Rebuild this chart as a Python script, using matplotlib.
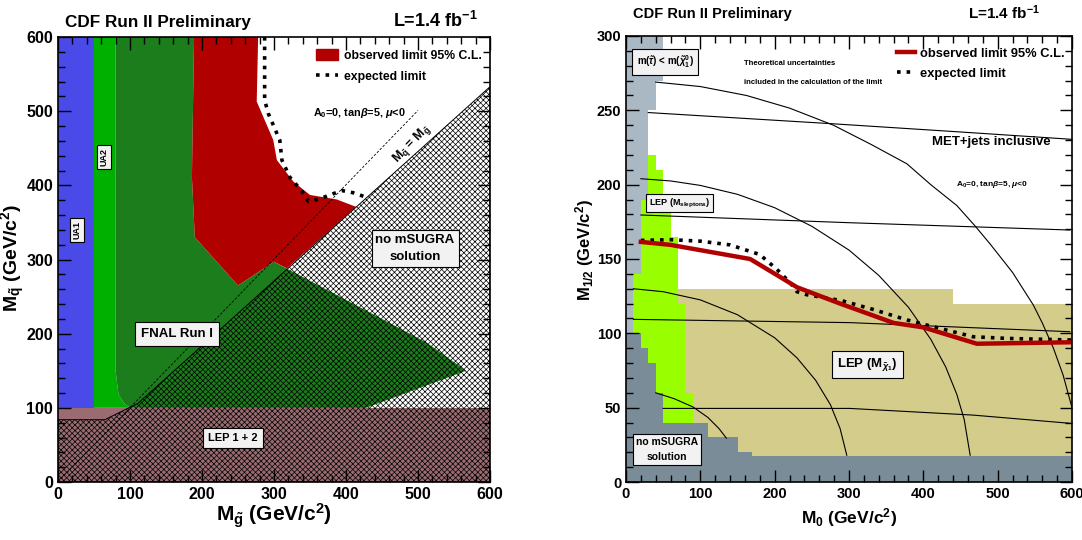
import matplotlib
matplotlib.use('Agg')
import matplotlib.pyplot as plt
from matplotlib.patches import Polygon, Patch
from matplotlib.lines import Line2D
from matplotlib.ticker import MultipleLocator

plt.rcParams['font.family'] = ['Liberation Sans', 'DejaVu Sans']
plt.rcParams['font.weight'] = 'bold'
plt.rcParams['mathtext.fontset'] = 'custom'
plt.rcParams['mathtext.rm'] = 'Liberation Sans:bold'
plt.rcParams['mathtext.bf'] = 'Liberation Sans:bold'
plt.rcParams['mathtext.it'] = 'Liberation Sans:italic:bold'
plt.rcParams['hatch.linewidth'] = 0.5

# ---- left panel: M_gluino vs M_squark (GeV/c^2) ----
ua1_x = [0, 50, 50, 0]
ua1_y = [100, 100, 600, 600]
ua2_x = [50, 50, 80, 80, 84, 92, 100]
ua2_y = [100, 600, 600, 150, 118, 106, 100]
fnal_x = [80, 189, 186, 190, 250, 300, 512, 567, 428, 100, 92, 84, 80]
fnal_y = [600, 600, 411, 330, 265, 297, 188, 150, 100, 100, 106, 118, 150]
obs_x = [189, 278, 276, 299, 304, 327, 350, 387, 414, 318, 300, 250, 190, 186]
obs_y = [600, 600, 513, 461, 434, 405, 387, 381, 371, 288, 297, 265, 330, 411]
exp_x = [287, 287, 292, 308, 311, 322, 338, 348, 364, 394, 410, 428]
exp_y = [600, 515, 497, 461, 434, 411, 393, 378, 382, 393, 390, 384]
nosol_x = [0, 0, 65, 111, 600, 600]
nosol_y = [0, 84, 84, 106, 533, 0]
lep_top = 100
diag_x = [0, 500]
diag_y = [0, 501]

# ---- right panel: M0 vs M1/2 (GeV/c^2) ----
stau_left = [0, 10, 20, 30, 40]
stau_bottom = [100, 140, 190, 250, 270]
stau_top = [300, 300, 300, 300, 300]
slep_left = [10, 20, 30, 40, 50, 60, 70, 80]
slep_bottom = [100, 90, 80, 60, 40, 40, 40, 40]
slep_top = [140, 190, 220, 210, 190, 165, 120, 60]
nosol_edges = [0, 20, 30, 40, 50, 110, 150, 170, 600]
nosol_vals = [100, 90, 80, 60, 40, 30, 20, 17.5]
chi_edges = [70, 440, 600]
chi_vals = [130, 120]
obs2_x = [20, 60, 167, 207, 230, 288, 360, 400, 472, 600]
obs2_y = [161.5, 159.5, 150, 138, 131, 120, 107, 104, 93, 94]
exp2_x = [20, 60, 100, 140, 180, 203, 221, 230, 243, 290, 333, 378, 405, 467, 512, 600]
exp2_y = [162.5, 163, 162, 159.5, 153, 143, 134, 128, 126, 122, 116, 109, 105.5, 97.7, 96.6, 95.5]
# iso-mass contours
arc1_x = [40, 65, 90, 110, 125, 135]
arc1_y = [60, 56, 50.5, 43.5, 36, 29.5]
arc2_x = [10, 50, 100, 150, 200, 230, 255, 275, 288, 297]
arc2_y = [130, 128, 122.5, 112.5, 97, 83.5, 68.5, 52, 36, 18]
arc3_x = [20, 60, 100, 150, 200, 250, 300, 340, 380, 410, 430, 445, 455, 463]
arc3_y = [204, 202.5, 199.5, 193.5, 184.5, 172, 156, 139, 117.5, 96, 77.5, 59, 42, 18]
arc4_x = [40, 100, 162, 220, 279, 330, 378, 410, 445, 470, 490, 520, 548, 560, 575, 588, 600]
arc4_y = [269, 266, 260, 251.5, 240, 227, 214, 200, 186, 172, 160, 141, 119, 107, 90, 72, 50]
line1_x = [30, 277, 445, 600]
line1_y = [248.5, 241, 235.6, 230.5]
line2_x = [20, 301, 597]
line2_y = [179.6, 174.4, 169.5]
line3_x = [10, 301, 597]
line3_y = [109.4, 107.2, 101.1]
line4_x = [50, 301, 467, 597]
line4_y = [49.5, 49.5, 45, 39.5]

fig = plt.figure(figsize=(10.82, 5.4), dpi=100)
ax1 = fig.add_axes([58/1082, 1-482/540, 432/1082, 445/540])
ax2 = fig.add_axes([626/1082, 1-482/540, 446/1082, 446/540])

box = dict(boxstyle='square,pad=0.3', fc='#f2f2f2', ec='black', lw=0.8)

# left
ax1.fill(ua1_x, ua1_y, color='#4a4ae8', lw=0)
ax1.fill(ua2_x, ua2_y, color='#00b000', lw=0)
ax1.fill(fnal_x, fnal_y, color='#1c7d1c', lw=0)
ax1.fill(obs_x, obs_y, color='#b00000', lw=0)
ax1.axhspan(0, lep_top, color='#9a6b70', lw=0)
ax1.add_patch(Polygon(list(zip(nosol_x, nosol_y)), closed=True, fc='none',
                      ec='black', lw=0.7, hatch='xxxxxx'))
ax1.plot(diag_x, diag_y, color='black', ls='--', lw=0.6, dashes=(3, 2))
ax1.plot(exp_x, exp_y, color='black', ls=':', lw=2.6)

ax1.text(26, 340, 'UA1', rotation=90, fontsize=6.5, ha='center', va='center', bbox=box)
ax1.text(64, 438, 'UA2', rotation=90, fontsize=6.5, ha='center', va='center', bbox=box)
ax1.text(165, 200, 'FNAL Run I', fontsize=9.5, ha='center', va='center',
         bbox=dict(boxstyle='square,pad=0.45', fc='#f2f2f2', ec='black', lw=0.8))
ax1.text(496, 315, 'no mSUGRA\nsolution', fontsize=9.5, ha='center', va='center',
         linespacing=1.5, bbox=box)
ax1.text(243, 59, 'LEP 1 + 2', fontsize=8, ha='center', va='center',
         bbox=dict(boxstyle='square,pad=0.45', fc='#f2f2f2', ec='black', lw=0.8))
ax1.text(354, 498, r'A$_0$=0, tan$\beta$=5, $\mu$<0', fontsize=7.8, ha='left', va='center')
ax1.text(492, 455, r'$\mathbf{M}_{\tilde{\mathbf{q}}}$ = $\mathbf{M}_{\tilde{\mathbf{g}}}$',
         rotation=46, fontsize=9, ha='center', va='center')

h1 = [Patch(color='#b00000'), Line2D([], [], color='black', ls=':', lw=2.6)]
ax1.legend(h1, ['observed limit 95% C.L.', 'expected limit'], loc='upper left',
           bbox_to_anchor=(0.585, 0.985), frameon=False, fontsize=8.8,
           handlelength=1.8, handleheight=1.1, labelspacing=0.7, borderaxespad=0,
           handletextpad=0.5)

ax1.set_xlim(0, 600)
ax1.set_ylim(0, 600)
ax1.xaxis.set_major_locator(MultipleLocator(100))
ax1.xaxis.set_minor_locator(MultipleLocator(20))
ax1.yaxis.set_major_locator(MultipleLocator(100))
ax1.yaxis.set_minor_locator(MultipleLocator(20))
ax1.tick_params(which='both', direction='in', top=True, right=True, labelsize=11.5, width=1)
ax1.tick_params(which='major', length=9)
ax1.tick_params(which='minor', length=5)
for s in ax1.spines.values():
    s.set_linewidth(1.2)

fig.text(65/1082, 1-23/540, 'CDF Run II Preliminary', fontsize=12.3, va='center', ha='left')
fig.text(478/1082, 1-21/540, r'L=1.4 fb$^{-1}$', fontsize=13, va='center', ha='right')
fig.text(13/1082, 1-258/540, r'M$_{\tilde{\mathbf{q}}}$ (GeV/c$^2$)', fontsize=14,
         rotation=90, ha='center', va='center')
fig.text(274/1082, 1-516/540, r'M$_{\tilde{\mathbf{g}}}$ (GeV/c$^2$)', fontsize=15,
         ha='center', va='center')

# right
ax2.stairs(chi_vals, chi_edges, baseline=0, fill=True, color='#d4cc8a', lw=0)
ax2.bar(stau_left, [t - b for t, b in zip(stau_top, stau_bottom)], width=10,
        bottom=stau_bottom, align='edge', color='#aab8c4', lw=0)
ax2.bar(slep_left, [t - b for t, b in zip(slep_top, slep_bottom)], width=10,
        bottom=slep_bottom, align='edge', color='#99ff00', lw=0)
ax2.stairs(nosol_vals, nosol_edges, baseline=0, fill=True, color='#7a8c98', lw=0)

for xs, ys in [(arc1_x, arc1_y), (arc2_x, arc2_y), (arc3_x, arc3_y), (arc4_x, arc4_y),
               (line1_x, line1_y), (line2_x, line2_y), (line3_x, line3_y), (line4_x, line4_y)]:
    ax2.plot(xs, ys, color='black', lw=0.8)

ax2.plot(exp2_x, exp2_y, color='black', ls=':', lw=2.6)
ax2.plot(obs2_x, obs2_y, color='#b00000', lw=3.2)

ax2.text(52.5, 282.5, r'm($\tilde{\tau}$) < m($\tilde{\chi}_1^0$)', fontsize=7,
         ha='center', va='center',
         bbox=dict(boxstyle='square,pad=0.45', fc='#f2f2f2', ec='black', lw=0.8))
ax2.text(72, 187.7, r'LEP (M$_{\mathrm{sleptons}}$)', fontsize=6.5,
         ha='center', va='center', bbox=box)
ax2.text(325, 79, r'LEP (M$_{\tilde{\chi}_1}$)', fontsize=9.5,
         ha='center', va='center',
         bbox=dict(boxstyle='square,pad=0.4', fc='#f2f2f2', ec='black', lw=0.8))
ax2.text(55.5, 21.8, 'no mSUGRA\nsolution', fontsize=7.5, ha='center', va='center',
         linespacing=1.6, bbox=box)
ax2.text(159, 281.6, 'Theoretical uncertainties', fontsize=5.6, ha='left', va='center')
ax2.text(159, 268.6, 'included in the calculation of the limit', fontsize=5.6,
         ha='left', va='center')
ax2.text(492, 229, 'MET+jets inclusive', fontsize=9.5, ha='center', va='center')
ax2.text(492, 200, r'A$_0$=0, tan$\beta$=5, $\mu$<0', fontsize=6, ha='center', va='center')

h2 = [Line2D([], [], color='#b00000', lw=3.2), Line2D([], [], color='black', ls=':', lw=2.6)]
ax2.legend(h2, ['observed limit 95% C.L.', 'expected limit'], loc='upper left',
           bbox_to_anchor=(0.595, 0.985), frameon=False, fontsize=9.3,
           handlelength=1.4, labelspacing=0.6, borderaxespad=0, handletextpad=0.4)

ax2.set_xlim(0, 600)
ax2.set_ylim(0, 300)
ax2.xaxis.set_major_locator(MultipleLocator(100))
ax2.xaxis.set_minor_locator(MultipleLocator(20))
ax2.yaxis.set_major_locator(MultipleLocator(50))
ax2.yaxis.set_minor_locator(MultipleLocator(10))
ax2.tick_params(which='both', direction='in', top=True, right=True, labelsize=10.5, width=1)
ax2.tick_params(which='major', length=9)
ax2.tick_params(which='minor', length=5)
for s in ax2.spines.values():
    s.set_linewidth(1.2)

fig.text(633/1082, 1-14/540, 'CDF Run II Preliminary', fontsize=10.5, va='center', ha='left')
fig.text(1040/1082, 1-13/540, r'L=1.4 fb$^{-1}$', fontsize=11, va='center', ha='right')
fig.text(585/1082, 1-250/540, r'M$_{1/2}$ (GeV/c$^2$)', fontsize=12, rotation=90,
         ha='center', va='center')
fig.text(849/1082, 1-518/540, r'M$_0$ (GeV/c$^2$)', fontsize=12.5, ha='center',
         va='center')

fig.savefig('out.png', dpi=100)
